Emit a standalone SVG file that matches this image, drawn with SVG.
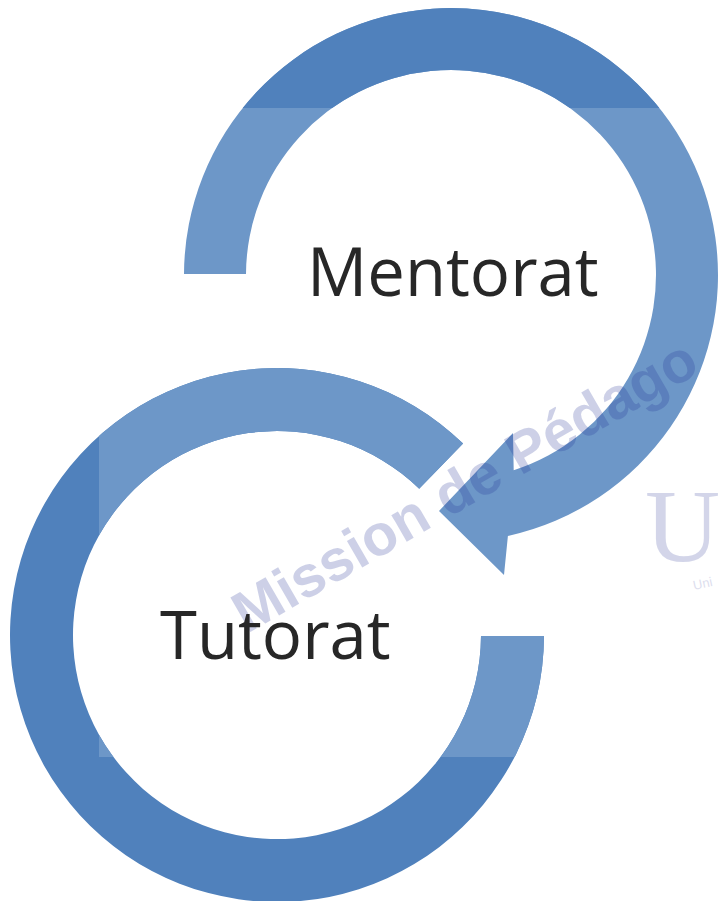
<svg xmlns="http://www.w3.org/2000/svg" xmlns:xlink="http://www.w3.org/1999/xlink" width="720" height="901" viewBox="0 0 720 901">
<style>
.dark{fill:#5081bc}
.light{fill:#6d97c8}
.label{font-family:"Open Sans","Liberation Sans",sans-serif;font-size:67px;fill:#272727}
.wm{font-family:"Liberation Sans",Arial,sans-serif;font-weight:bold;font-size:58px;fill:#1f2f95;opacity:0.22}
.wmu{font-family:"Liberation Serif","Times New Roman",serif;font-size:104px;fill:#2a3596;opacity:0.2}
.wms{font-family:"Liberation Sans",Arial,sans-serif;font-size:13px;fill:#2a3596;opacity:0.16}
</style>
<defs>
<path id="ringTop" d="M 184 274 A 267 267 0 1 1 507.9 535.9 L 504 575 L 439 511 L 513 433 L 513.7 470.2 A 205 205 0 1 0 246 274 Z"/>
<path id="ringBottom" d="M 544 636 A 267 267 0 1 1 463.1 443.6 L 419.2 488.8 A 204 204 0 1 0 481 636 Z"/>
<clipPath id="clipTopDark"><rect x="0" y="0" width="720" height="108"/></clipPath>
<clipPath id="clipBottomLight"><rect x="99" y="0" width="621" height="757"/></clipPath>
</defs>
<g id="connectors">
<g id="arrow-mentorat">
<use xlink:href="#ringTop" class="light"/>
<use xlink:href="#ringTop" class="dark" clip-path="url(#clipTopDark)"/>
</g>
<g id="arrow-tutorat">
<use xlink:href="#ringBottom" class="dark"/>
<use xlink:href="#ringBottom" class="light" clip-path="url(#clipBottomLight)"/>
</g>
</g>
<g id="watermark">
<text class="wm" transform="translate(247,634) rotate(-30)">Mission de Pédago</text>
<text class="wmu" x="645" y="561">U</text>
<text class="wms" transform="translate(694,590) rotate(-12)">Uni</text>
</g>
<g id="node-mentorat">
<text class="label" x="307" y="296">Mentorat</text>
</g>
<g id="node-tutorat">
<text class="label" x="160" y="659">Tutorat</text>
</g>
</svg>
